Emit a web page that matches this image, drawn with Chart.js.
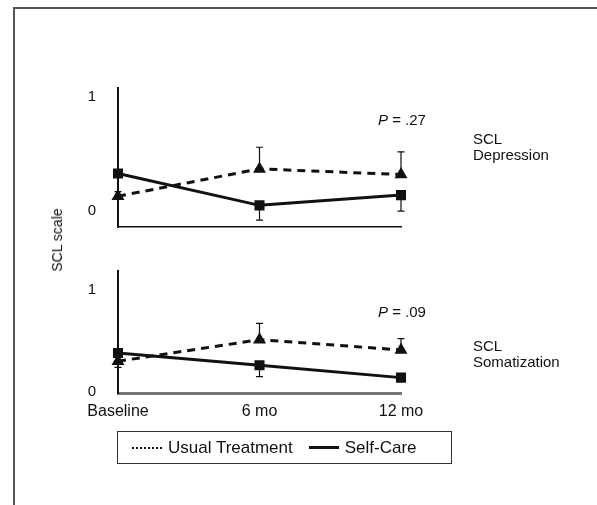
<!DOCTYPE html>
<html>
<head>
<meta charset="utf-8">
<script src="https://cdn.jsdelivr.net/npm/chart.js@4/dist/chart.umd.min.js"></script>
<style>
  body { margin: 0; background: #fff; font-family: "Liberation Sans", Arial, sans-serif; }
  #wrap { position: relative; width: 597px; height: 505px; overflow: hidden; }
  #frame { position: absolute; left: 13px; top: 7px; right: -5px; bottom: -5px;
           border-left: 2px solid #555; border-top: 2px solid #555; }
  canvas { position: absolute; left: 0; }
  #ylab { position: absolute; left: 57px; top: 240px; transform: translate(-50%, -50%) rotate(-90deg);
          font-size: 14px; white-space: nowrap; color: #111; }
  #legend { position: absolute; left: 117px; top: 431px; width: 333px; height: 31px;
            border: 1.5px solid #333; display: flex; align-items: center; font-size: 17px; color: #111; }
  .sample { display: inline-block; width: 30px; margin: 0 6px 0 14px; }
</style>
</head>
<body>
<div id="wrap">
  <div id="frame"></div>
  <canvas id="top" width="597" height="267" style="top:0"></canvas>
  <canvas id="bottom" width="597" height="200" style="top:240px"></canvas>
  <div id="ylab">SCL scale</div>
  <div id="legend">
    <span class="sample" style="border-top: 2.5px dotted #111"></span>Usual Treatment
    <span class="sample" style="border-top: 3px solid #111; margin-left: 16px"></span>Self-Care
  </div>
</div>
<script>
const categories = ['Baseline', '6 mo', '12 mo']

// SCL Depression
const depUsual = [0.13, 0.37, 0.32]
const depUsualHi = [null, 0.56, 0.52]
const depSelf = [0.33, 0.05, 0.14]
const depSelfLo = [0.17, -0.08, 0.0]

// SCL Somatization
const somUsual = [0.30, 0.51, 0.41]
const somUsualHi = [null, 0.67, 0.52]
const somUsualLo = [0.24, null, null]
const somSelf = [0.38, 0.26, 0.14]
const somSelfLo = [null, 0.15, 0.12]

const yTicks = [0, 1]
const FONT = '"Liberation Sans", Arial, sans-serif'

const errorBars = {
    id: 'errorBars',
    afterDatasetsDraw(chart) {
        const ctx = chart.ctx
        const y = chart.scales.y
        ctx.save()
        ctx.strokeStyle = '#111'
        ctx.lineWidth = 1.2
        chart.data.datasets.forEach((ds, i) => {
            const meta = chart.getDatasetMeta(i)
            ;[ds.errHi, ds.errLo].forEach(arr => {
                if (!arr) return
                arr.forEach((v, j) => {
                    if (v === null) return
                    const pt = meta.data[j]
                    const yv = y.getPixelForValue(v)
                    ctx.beginPath()
                    ctx.moveTo(pt.x, pt.y)
                    ctx.lineTo(pt.x, yv)
                    ctx.moveTo(pt.x - 3.5, yv)
                    ctx.lineTo(pt.x + 3.5, yv)
                    ctx.stroke()
                })
            })
        })
        ctx.restore()
    }
}

const panelText = {
    id: 'panelText',
    afterDraw(chart, args, opts) {
        const ctx = chart.ctx
        ctx.save()
        ctx.fillStyle = '#111'
        ctx.textBaseline = 'middle'
        ctx.font = 'italic 15px ' + FONT
        const px = chart.chartArea.right - 23
        ctx.fillText('P', px, opts.pY)
        const w = ctx.measureText('P').width
        ctx.font = '15px ' + FONT
        ctx.fillText(' = ' + opts.p, px + w, opts.pY)
        opts.label.forEach((t, k) => ctx.fillText(t, 473, opts.labelY + k * 16))
        ctx.restore()
    }
}

function makeChart(id, usual, usualHi, usualLo, self, selfLo, opt) {
    return new Chart(document.getElementById(id), {
        type: 'line',
        plugins: [errorBars, panelText],
        data: {
            labels: categories,
            datasets: [
                {
                    label: 'Usual Treatment',
                    data: usual,
                    errHi: usualHi,
                    errLo: usualLo,
                    borderColor: '#111',
                    backgroundColor: '#111',
                    borderWidth: 3,
                    borderDash: [8, 6],
                    pointStyle: 'triangle',
                    pointRadius: 4.5,
                    clip: false,
                },
                {
                    label: 'Self-Care',
                    data: self,
                    errLo: selfLo,
                    borderColor: '#111',
                    backgroundColor: '#111',
                    borderWidth: 3,
                    pointStyle: 'rect',
                    pointRadius: 5,
                    clip: false,
                }
            ]
        },
        options: {
            responsive: false,
            animation: false,
            layout: { padding: { left: 0, right: 196, top: opt.padTop, bottom: 0 } },
            plugins: {
                legend: { display: false },
                tooltip: { enabled: false },
                panelText: opt.text
            },
            scales: {
                x: {
                    offset: false,
                    grid: { display: false, drawTicks: opt.showX, tickLength: 4, color: '#555' },
                    border: { display: true, color: opt.xColor, width: opt.xWidth, dash: opt.xDash },
                    ticks: { display: opt.showX, color: '#111', font: { family: FONT, size: 16 }, padding: 5, maxRotation: 0 },
                    afterFit: a => { a.height = opt.xHeight }
                },
                y: {
                    min: opt.min,
                    max: opt.max,
                    afterBuildTicks: a => { a.ticks = yTicks.map(v => ({ value: v })) },
                    grid: { display: false, drawTicks: false },
                    border: { display: true, color: '#111', width: 2 },
                    ticks: { color: '#111', font: { family: FONT, size: 15 }, padding: 22 },
                    afterFit: a => { a.width = 118 }
                }
            }
        }
    })
}

makeChart('top', depUsual, depUsualHi, null, depSelf, depSelfLo, {
    padTop: 88, min: -0.14, max: 1.08, showX: false, xHeight: 40,
    xColor: '#111', xWidth: 1.5, xDash: [],
    text: { p: '.27', pY: 121, label: ['SCL', 'Depression'], labelY: 140 }
})

makeChart('bottom', somUsual, somUsualHi, somUsualLo, somSelf, somSelfLo, {
    padTop: 28, min: -0.01, max: 1.18, showX: true, xHeight: 47,
    xColor: '#777', xWidth: 3, xDash: [2, 1],
    text: { p: '.09', pY: 73, label: ['SCL', 'Somatization'], labelY: 107 }
})
</script>
</body>
</html>
